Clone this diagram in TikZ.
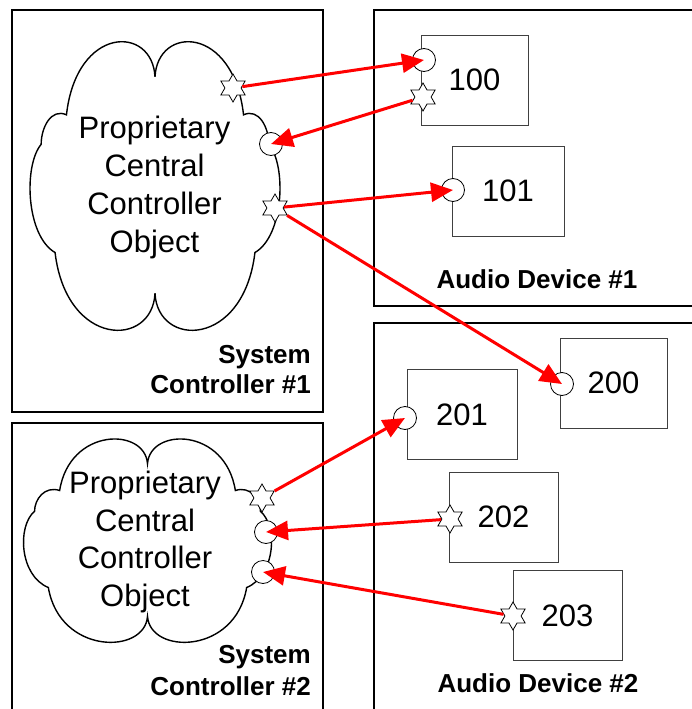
\documentclass[tikz,border=0pt]{standalone}
\usepackage{fontspec}
\setmainfont{Liberation Sans}
\usetikzlibrary{shapes.geometric,arrows.meta}

\tikzset{
  puffcloud/.pic={
    \path[draw=black,line width=1.4pt,fill=white]
      (0,-0.78) .. controls (0.02,-1.15) and (0.62,-1.15) .. (0.70,-0.51)
      .. controls (0.82,-0.56) and (0.90,-0.42) .. (0.90,-0.30)
      .. controls (1.04,-0.15) and (1.02,0.35) .. (0.79,0.47)
      .. controls (0.70,1.15) and (0.02,1.15) .. (0,0.76)
      .. controls (-0.02,1.15) and (-0.70,1.15) .. (-0.79,0.47)
      .. controls (-1.02,0.35) and (-1.04,-0.15) .. (-0.90,-0.30)
      .. controls (-0.90,-0.42) and (-0.82,-0.56) .. (-0.70,-0.51)
      .. controls (-0.62,-1.15) and (-0.02,-1.15) .. cycle;
  }
}

\begin{document}
\begin{tikzpicture}[x=1pt,y=-1pt,
  outerbox/.style={draw=black,line width=1.8pt},
  devbox/.style={rectangle,draw=black!75,line width=0.9pt,fill=white,
    minimum height=90pt,inner sep=0pt,font=\fontsize{31}{37}\selectfont},
  cloudtext/.style={align=center,inner sep=0pt,font=\fontsize{31}{37.7}\selectfont},
  boxlabel/.style={inner sep=0pt,font=\bfseries\fontsize{26}{30}\selectfont},
  inport/.style={circle,draw=black,line width=0.8pt,fill=white,minimum size=23pt,inner sep=0pt},
  outport/.style={star,star points=6,star point ratio=1.73,draw=black,line width=0.8pt,
    fill=white,minimum size=28pt,inner sep=0pt},
  link/.style={draw=red,line width=3pt,-{Triangle[length=22pt,width=19pt]}}
]
\useasboundingbox (0,0) rectangle (692,709);
\clip (0,0) rectangle (692,709);
\fill[white] (0,0) rectangle (692,709);

% enclosing boxes
\draw[outerbox] (12,10) rectangle (323,412);
\draw[outerbox] (12,423) rectangle (323,730);
\draw[outerbox] (374,10) rectangle (710,306);
\draw[outerbox] (374,323) rectangle (710,730);

% controller clouds
\begin{scope}[shift={(155,186.5)},x=126.5pt,y=-140.5pt]
  \pic {puffcloud};
\end{scope}
\begin{scope}[shift={(147.5,541)},x=125.5pt,y=-99pt]
  \pic {puffcloud};
\end{scope}
\node[cloudtext] (t1) at (154.5,187.5) {Proprietary\\Central\\Controller\\Object};
\node[cloudtext] (t2) at (145,542) {Proprietary\\Central\\Controller\\Object};

% box captions
\node[boxlabel,anchor=base east] (sc1a) at (311,363) {System};
\node[boxlabel,anchor=base east] (sc1b) at (311,393) {Controller \#1};
\node[boxlabel,anchor=base east] (sc2a) at (311,663) {System};
\node[boxlabel,anchor=base east] (sc2b) at (311,695) {Controller \#2};
\node[boxlabel,anchor=base] (ad1) at (537,288) {Audio Device \#1};
\node[boxlabel,anchor=base] (ad2) at (538,692) {Audio Device \#2};

% devices
\node[devbox,minimum width=107pt] (d100) at (474.5,80) {100};
\node[devbox,minimum width=112pt] (d101) at (508,191) {101};
\node[devbox,minimum width=107pt] (d200) at (613.5,383) {200};
\node[devbox,minimum width=110pt] (d201) at (462,414.5) {201};
\node[devbox,minimum width=109pt] (d202) at (503.5,517) {202};
\node[devbox,minimum width=109pt] (d203) at (567.5,615.5) {203};

% ports: circles receive, stars send
\node[inport] (c1a) at (271,144) {};
\node[inport] (c2a) at (266,532) {};
\node[inport] (c2b) at (263,572) {};
\node[inport] (p100in) at (424,60) {};
\node[inport] (p101in) at (453,190) {};
\node[inport] (p200in) at (562,384) {};
\node[inport] (p201in) at (405,418) {};

\node[outport] (s1a) at (233,88) {};
\node[outport] (s1b) at (275,208) {};
\node[outport] (s2a) at (262,498) {};
\node[outport] (p100out) at (423,97) {};
\node[outport] (p202out) at (450,519) {};
\node[outport] (p203out) at (513,616) {};

% links
\draw[link] (s1a) -- (p100in.center);
\draw[link] (p100out) -- (c1a.center);
\draw[link] (s1b) -- (p101in.center);
\draw[link] (s1b) -- (p200in.center);
\draw[link] (s2a) -- (p201in.center);
\draw[link] (p202out) -- (c2a.center);
\draw[link] (p203out) -- (c2b.center);
\end{tikzpicture}
\end{document}
